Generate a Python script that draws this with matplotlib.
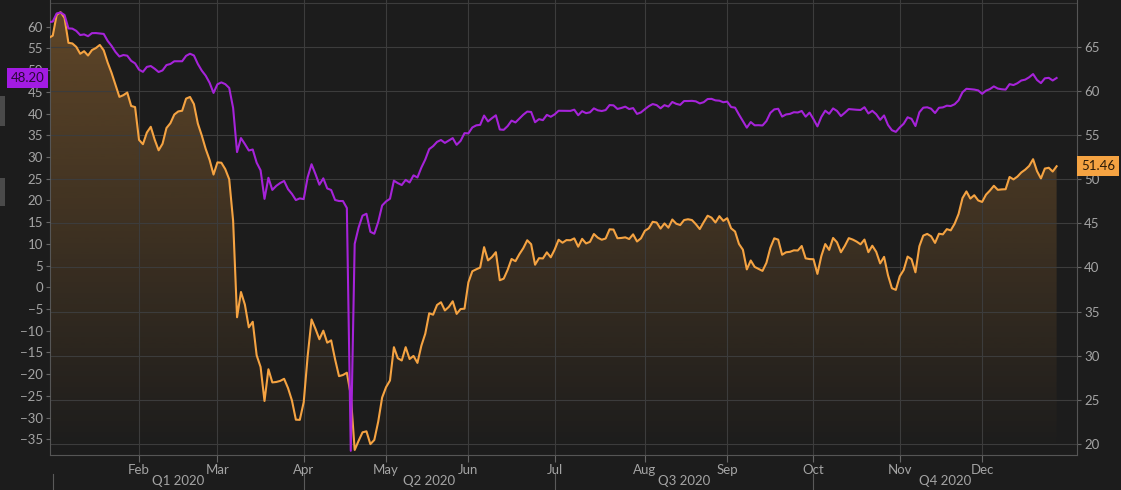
import numpy as np
import pandas as pd
import matplotlib
matplotlib.use('Agg')
import matplotlib.pyplot as plt
from matplotlib.patches import Rectangle
from matplotlib.colors import to_rgb

plt.rcParams['font.family'] = ['Lato', 'DejaVu Sans']

# trading calendar: weekdays, Dec 31 2019 .. Dec 29 2020, common holidays removed
days = pd.bdate_range('2019-12-31', '2020-12-29')
days = days.drop(pd.to_datetime(['2020-01-01', '2020-04-10', '2020-12-25']))

# purple series, left axis (None = no settlement that day)
wti = [61.06,
       61.18, 63.05, 63.27, 62.70, 59.61, 59.56, 59.04, 58.08, 58.23, 57.81, 58.52, 58.54, None, 58.34, 56.74, 55.59, 54.19, 53.14, 53.48, 53.33, 52.14, 51.56,
       50.11, 49.61, 50.75, 50.95, 50.32, 49.57, 49.94, 51.17, 51.42, 52.05, None, 52.05, 53.29, 53.78, 53.38, 51.43, 49.90, 48.73, 47.09, 44.76,
       46.75, 47.18, 46.78, 45.90, 41.28, 31.13, 34.36, 32.98, 31.50, 31.73, 28.70, 26.95, 20.37, 25.22, 22.43, 23.36, 24.01, 24.49, 22.60, 21.51, 20.09, 20.48,
       20.31, 25.32, 28.34, 26.08, 23.63, 25.09, 22.76, 22.41, 20.11, 19.87, 19.87, 18.27, -37.63, 10.01, 13.78, 16.50, 16.94, 12.78, 12.34, 15.06, 18.84,
       19.78, 20.39, 24.56, 23.99, 23.55, 24.74, 24.14, 25.78, 25.29, 27.56, 29.43, 31.82, 32.50, 33.49, 33.92, 33.25, None, 34.35, 32.81, 33.71, 35.49,
       35.44, 36.81, 37.29, 37.41, 39.55, 38.19, 38.94, 39.60, 36.34, 36.26, 37.12, 38.38, 37.96, 38.84, 39.75, 40.46, 40.37, 38.01, 38.72, 38.49, 39.70, 39.27,
       39.82, 40.65, None, 40.63, 40.62, 40.90, 39.62, 40.55, 40.10, 40.29, 41.20, 40.75, 40.59, 40.81, 41.96, 41.90, 41.07, 41.29, 41.60, 41.04, 41.27, 39.92, 40.27,
       41.01, 41.70, 42.19, 41.95, 41.22, 41.94, 41.61, 42.67, 42.24, 42.01, 42.89, 42.89, 42.93, 42.82, 42.34, 42.62, 43.35, 43.39, 43.04, 42.97, 42.61,
       42.76, 41.51, 41.37, 39.77, None, 36.76, 38.05, 37.30, 37.33, 37.26, 38.28, 40.16, 40.97, 41.11, 39.31, 39.80, 39.93, 40.31, 40.25, 40.60, 39.29, 40.22,
       38.72, 37.05, 39.22, 40.67, 39.95, 41.19, 40.60, 39.43, 40.20, 41.04, 40.96, 40.88, 40.83, 41.46, 40.03, 40.64, 39.85, 38.56, 39.57, 37.39, 36.17, 35.79,
       36.81, 37.66, 39.15, 38.79, 37.14, 40.29, 41.36, 41.45, 41.12, 40.13, 41.34, 41.43, 41.82, 41.74, 42.15, 43.06, 44.91, 45.71, None, 45.53, 45.34,
       44.55, 45.28, 45.64, 46.26, 45.76, 45.60, 45.52, 46.78, 46.57, 46.99, 47.62, 47.82, 48.36, 49.10, 47.74, 47.02, 48.12, 48.23, 47.62, 48.20]

# orange series, right axis
brent = [66.00,
         66.25, 68.60, 68.91, 68.27, 65.44, 65.37, 64.98, 64.20, 64.49, 64.00, 64.62, 64.85, 65.20, 64.59, 63.21, 62.04, 60.69, 59.32, 59.51, 59.81, 58.29, 58.16,
         54.45, 53.96, 55.28, 55.93, 54.47, 53.27, 54.01, 55.79, 56.34, 57.32, 57.67, 57.75, 59.12, 59.31, 58.50, 56.30, 54.95, 53.43, 52.18, 50.52,
         51.90, 51.86, 51.13, 49.99, 45.27, 34.36, 37.22, 35.79, 33.22, 33.85, 30.05, 28.73, 24.88, 28.47, 26.98, 27.03, 27.15, 27.39, 26.34, 24.93, 22.76, 22.74,
         24.74, 29.94, 34.11, 33.05, 31.87, 32.84, 31.48, 31.74, 29.60, 27.69, 27.82, 28.08, 25.57, 19.33, 20.37, 21.33, 21.44, 19.99, 20.46, 22.54, 25.27,
         26.44, 27.20, 30.97, 29.72, 29.46, 30.97, 29.63, 29.98, 29.19, 31.13, 32.50, 34.81, 34.65, 35.75, 36.06, 35.13, 35.53, 36.17, 34.74, 35.29, 35.33,
         38.32, 39.57, 39.79, 39.99, 42.30, 40.80, 41.18, 41.73, 38.55, 38.73, 39.72, 40.96, 40.71, 41.51, 42.19, 43.08, 42.63, 40.31, 41.05, 41.02, 41.71, 41.15,
         42.03, 43.14, 42.80, 43.10, 43.08, 43.29, 42.35, 43.24, 42.72, 42.90, 43.79, 43.37, 43.14, 43.28, 44.32, 44.29, 43.31, 43.34, 43.41, 43.22, 43.75, 42.94, 43.30,
         44.15, 44.43, 45.17, 45.09, 44.40, 44.99, 44.50, 45.43, 44.96, 44.80, 45.37, 45.46, 45.37, 44.90, 44.35, 45.13, 45.86, 45.64, 45.09, 45.81, 45.28,
         45.58, 44.43, 44.07, 42.66, 42.01, 39.78, 40.79, 40.06, 39.83, 39.61, 40.53, 42.22, 43.30, 43.15, 41.44, 41.72, 41.77, 41.94, 41.92, 42.43, 41.03, 40.95,
         40.93, 39.27, 41.29, 42.65, 41.99, 43.34, 42.85, 41.72, 42.45, 43.32, 43.16, 42.93, 42.62, 43.16, 41.73, 42.46, 41.77, 40.46, 41.20, 39.12, 37.65, 37.46,
         39.00, 39.71, 41.23, 40.93, 39.45, 42.40, 43.61, 43.80, 43.53, 42.78, 43.82, 43.75, 44.34, 44.20, 44.96, 46.06, 47.86, 48.61, 47.80, 48.18, 47.59,
         47.42, 48.25, 48.71, 49.25, 48.79, 48.84, 48.86, 50.25, 49.97, 50.29, 50.76, 51.08, 51.50, 52.26, 50.91, 50.08, 51.20, 51.29, 50.86, 51.46]

left_ticks = list(range(-35, 61, 5))
right_ticks = list(range(20, 66, 5))
quarter_labels = ['Q1 2020', 'Q2 2020', 'Q3 2020', 'Q4 2020']

BG = '#1c1c1c'
GRID = '#3c3c3c'
TXT = '#a4a4a4'
ORANGE = '#f5a342'
PURPLE = '#a623d9'
FS = 9.5

x = np.arange(len(days))
w = np.array(wti, dtype=float)
b = np.array(brent, dtype=float)
ok = ~np.isnan(w)

fig = plt.figure(figsize=(11.21, 4.9), dpi=100, facecolor=BG)
ax = fig.add_axes([50 / 1121, 35 / 490, 1027 / 1121, 455 / 490], facecolor=BG)
ax2 = ax.twinx()

xlim = (0.3, 262.2)
ylim_r = (18.76, 70.29)
ylim_l = (-38.6, 66.15)

# gradient fill under the orange line
poly = ax.fill_between(x, b, ylim_r[0], color='none', lw=0)
grad = np.zeros((256, 1, 4))
grad[:, 0, :3] = to_rgb(ORANGE)
grad[:, 0, 3] = np.linspace(0.0, 0.32, 256)
im = ax.imshow(grad, extent=[x[0], x[-1], ylim_r[0], ylim_r[1]], origin='lower',
               aspect='auto', zorder=1, interpolation='bilinear')
im.set_clip_path(poly.get_paths()[0], transform=ax.transData)
ax.plot(x, b, color=ORANGE, lw=1.5, zorder=3)

ax2.plot(x[ok], w[ok], color=PURPLE, lw=1.5, zorder=3)

ax.set_xlim(*xlim)
ax.set_ylim(*ylim_r)
ax2.set_ylim(*ylim_l)

# month ticks at first trading day of each month
month_idx = [int(np.where((days.year == 2020) & (days.month == m))[0][0]) for m in range(2, 13)]
ax.set_xticks(month_idx)
ax.set_xticklabels([days[i].strftime('%b') for i in month_idx])

ax.set_yticks(right_ticks)
ax.yaxis.tick_right()
ax2.set_yticks(left_ticks)
ax2.yaxis.tick_left()

ax.grid(True, color=GRID, lw=0.8)
ax.axhline(70, color=GRID, lw=0.8, zorder=1.5)

for s in ax2.spines.values():
    s.set_visible(False)
ax.spines['top'].set_visible(False)
for k in ['left', 'bottom', 'right']:
    ax.spines[k].set_color('#555555')
    ax.spines[k].set_linewidth(0.8)

ax.tick_params(axis='x', colors='#666666', length=5, width=0.8, pad=1.5, labelcolor=TXT, labelsize=FS)
ax.tick_params(axis='y', colors='#666666', length=3, width=0.8, pad=2, labelcolor=TXT, labelsize=FS)
ax2.tick_params(axis='y', colors='#666666', length=3, width=0.8, pad=2, labelcolor=TXT, labelsize=FS)

# quarter labels and quarter-start markers
q_start = [int(np.where((days.year == 2020) & (days.month == m))[0][0]) for m in (1, 4, 7, 10)]
q_end = q_start[1:] + [xlim[1]]
xtr = ax.get_xaxis_transform()
for lab, s, e in zip(quarter_labels, q_start, q_end):
    ax.text((s + e) / 2, -0.058, lab, transform=xtr, ha='center', va='center',
            color=TXT, fontsize=FS, clip_on=False)
for s in q_start:
    ax.plot([s, s], [-0.042, -0.08], transform=xtr, color='#5a5a5a', lw=0.8, clip_on=False)

# last value boxes
ax2.annotate(f'{wti[-1]:.2f}', xy=(0, wti[-1]), xycoords=('axes fraction', 'data'),
             xytext=(-4, 0), textcoords='offset points', ha='right', va='center',
             fontsize=FS, color='#2a0838', zorder=10,
             bbox=dict(boxstyle='square,pad=0.3', fc='#a31be3', ec='none'),
             annotation_clip=False)
ax.annotate(f'{brent[-1]:.2f}', xy=(1, brent[-1]), xycoords=('axes fraction', 'data'),
            xytext=(3, 0), textcoords='offset points', ha='left', va='center',
            fontsize=FS, color='#2a1a08', zorder=10,
            bbox=dict(boxstyle='square,pad=0.3', fc=ORANGE, ec='none'),
            annotation_clip=False)

# panel edge markers at the far left
for y0, h in [(96, 30), (178, 28)]:
    fig.patches.append(Rectangle((0, 1 - (y0 + h) / 490), 5 / 1121, h / 490,
                                 transform=fig.transFigure, fc='#4a4a4a', ec='none'))

fig.savefig('out.png', dpi=100, facecolor=BG)
